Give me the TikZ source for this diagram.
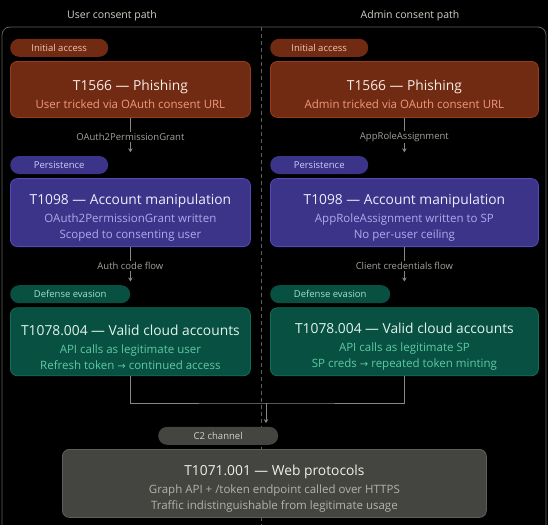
\documentclass[tikz,border=0pt]{standalone}
\usepackage{fontspec}
\setmainfont{Open Sans}
\newfontfamily\arrowfont{DejaVu Sans}
\usetikzlibrary{arrows.meta, positioning}

\definecolor{corfill}{HTML}{712B13}
\definecolor{cordraw}{HTML}{993C1D}
\definecolor{cortitle}{HTML}{FAECE7}
\definecolor{corsub}{HTML}{F0997B}
\definecolor{corpilltext}{HTML}{F5C4B3}
\definecolor{purfill}{HTML}{3C3489}
\definecolor{purdraw}{HTML}{534AB7}
\definecolor{purtitle}{HTML}{EEEDFE}
\definecolor{pursub}{HTML}{AFA9EC}
\definecolor{purpilltext}{HTML}{CECBF6}
\definecolor{tealfill}{HTML}{085041}
\definecolor{tealdraw}{HTML}{0F6E56}
\definecolor{tealtitle}{HTML}{E1F5EE}
\definecolor{tealsub}{HTML}{5DCAA5}
\definecolor{tealpilltext}{HTML}{9FE1CB}
\definecolor{grayfill}{HTML}{444441}
\definecolor{graydraw}{HTML}{5F5E5A}
\definecolor{graytitle}{HTML}{F1EFE8}
\definecolor{graysub}{HTML}{B4B2A9}
\definecolor{graypilltext}{HTML}{D3D1C7}
\definecolor{linkgray}{HTML}{888780}
\definecolor{labelgray}{HTML}{A3A199}

\newcommand{\ttl}[1]{{\fontsize{13.8}{18}\selectfont\rule{0pt}{21pt}#1}\\[2pt]}
\newcommand{\rarr}{{\arrowfont\fontsize{10}{16}\selectfont →}}

\begin{document}
\begin{tikzpicture}[
    x=1pt, y=-1pt,
    box/.style={rectangle, draw, rounded corners=7pt, line width=0.8pt, inner sep=0pt, align=center, minimum height=68pt, font=\fontsize{11.5}{16}\selectfont},
    pill/.style={rectangle, rounded corners=9pt, inner sep=0pt, minimum height=18pt, font=\fontsize{9.5}{12}\selectfont},
    corbox/.style={box, fill=corfill, draw=cordraw, text=corsub},
    purbox/.style={box, fill=purfill, draw=purdraw, text=pursub},
    tealbox/.style={box, fill=tealfill, draw=tealdraw, text=tealsub},
    graybox/.style={box, fill=grayfill, draw=graydraw, text=graysub},
    head/.style={text=graypilltext, font=\fontsize{10.5}{14}\selectfont},
    tag/.style={fill=black, text=labelgray, inner sep=1.5pt, font=\fontsize{9.5}{12}\selectfont},
    link/.style={draw=linkgray, line width=0.8pt},
    arrow/.style={link, -{Stealth[length=4pt, width=4.5pt]}, shorten >=3.5pt}
]
    \fill [black] (0,0) rectangle (548,525);
    \useasboundingbox (0,0) rectangle (548,525);

    \draw [draw=graydraw, line width=0.8pt, rounded corners=8pt] (2,525) -- (2,27) -- (546,27) -- (546,525);
    \draw [draw=graydraw, line width=0.8pt, dashed, dash pattern=on 4pt off 3pt] (261,27) -- (261,525);

    \node (uhead) [head] at (112,16) {User consent path};
    \node (ahead) [head] at (410,16) {Admin consent path};

    \node (uphish) [corbox, minimum width=240pt, minimum height=56pt, anchor=north west] at (10,61) {\ttl{\color{cortitle}T1566 — Phishing}User tricked via OAuth consent URL};
    \node (uinit) [pill, fill=corfill, text=corpilltext, minimum width=98pt, above=4pt of uphish.north west, anchor=south west] {Initial access};
    \node (upersp) [pill, fill=purfill, text=purpilltext, minimum width=98pt, below=38pt of uphish.south west, anchor=north west] {Persistence};
    \node (upers) [purbox, minimum width=240pt, below=4pt of upersp.south west, anchor=north west] {\ttl{\color{purtitle}T1098 — Account manipulation}OAuth2PermissionGrant written\\Scoped to consenting user};
    \node (udefp) [pill, fill=tealfill, text=tealpilltext, minimum width=120pt, below=38pt of upers.south west, anchor=north west] {Defense evasion};
    \node (udef) [tealbox, minimum width=240pt, below=4pt of udefp.south west, anchor=north west] {\ttl{\color{tealtitle}T1078.004 — Valid cloud accounts}API calls as legitimate user\\Refresh token \rarr{} continued access};

    \node (aphish) [corbox, minimum width=268pt, minimum height=56pt, anchor=north west] at (270,61) {\ttl{\color{cortitle}T1566 — Phishing}Admin tricked via OAuth consent URL};
    \node (ainit) [pill, fill=corfill, text=corpilltext, minimum width=98pt, above=4pt of aphish.north west, anchor=south west] {Initial access};
    \node (apersp) [pill, fill=purfill, text=purpilltext, minimum width=98pt, below=38pt of aphish.south west, anchor=north west] {Persistence};
    \node (apers) [purbox, minimum width=268pt, below=4pt of apersp.south west, anchor=north west] {\ttl{\color{purtitle}T1098 — Account manipulation}AppRoleAssignment written to SP\\No per-user ceiling};
    \node (adefp) [pill, fill=tealfill, text=tealpilltext, minimum width=120pt, below=38pt of apers.south west, anchor=north west] {Defense evasion};
    \node (adef) [tealbox, minimum width=268pt, below=4pt of adefp.south west, anchor=north west] {\ttl{\color{tealtitle}T1078.004 — Valid cloud accounts}API calls as legitimate SP\\SP creds \rarr{} repeated token minting};

    \node (c2) [graybox, minimum width=424pt, anchor=north west] at (62,449) {\ttl{\color{graytitle}T1071.001 — Web protocols}Graph API + /token endpoint called over HTTPS\\Traffic indistinguishable from legitimate usage};
    \node (c2p) [pill, fill=grayfill, text=graypilltext, minimum width=120pt, above=4pt of c2.north west, anchor=south west, xshift=96pt] {C2 channel};

    \draw [arrow] (uphish.south) -- node [tag] {OAuth2PermissionGrant} (uphish.south |- upersp.north);
    \draw [arrow] (upers.south) -- node [tag] {Auth code flow} (upers.south |- udefp.north);
    \draw [arrow] (aphish.south) -- node [tag] {AppRoleAssignment} (aphish.south |- apersp.north);
    \draw [arrow] (apers.south) -- node [tag] {Client credentials flow} (apers.south |- adefp.north);

    \coordinate (join) at (266,403);
    \draw [link] (udef.south) |- (join) -| (adef.south);
    \draw [arrow] (join) -- (join |- c2p.north);
\end{tikzpicture}
\end{document}
